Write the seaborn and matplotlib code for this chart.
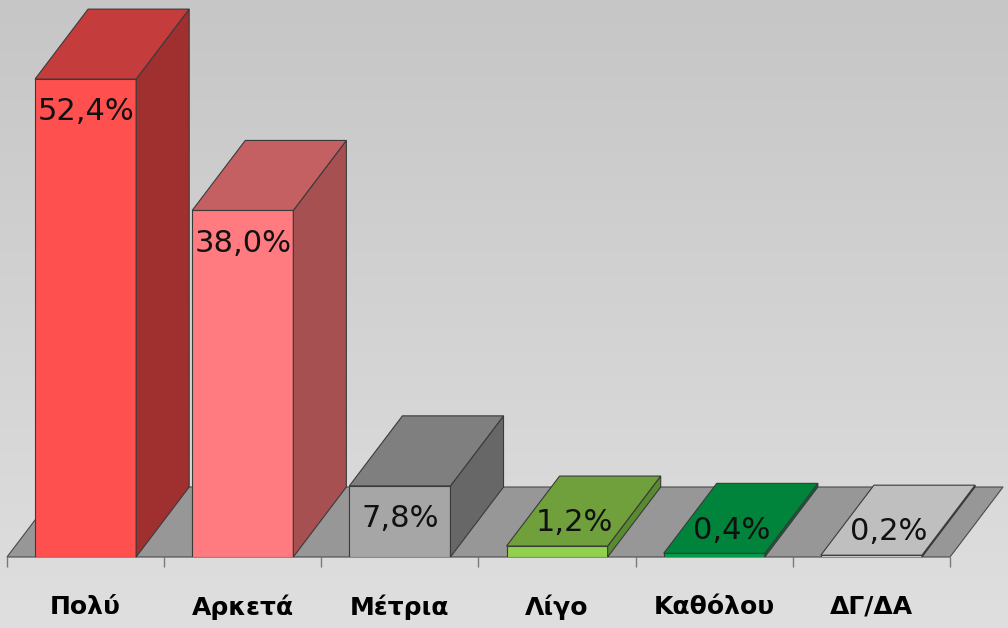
import numpy as np
import matplotlib
matplotlib.use("Agg")
import matplotlib.pyplot as plt
import seaborn as sns
from matplotlib.patches import Polygon
import pandas as pd

categories = ["Πολύ", "Αρκετά", "Μέτρια", "Λίγο", "Καθόλου", "ΔΓ/ΔΑ"]
values = [52.4, 38.0, 7.8, 1.2, 0.4, 0.2]
value_labels = ["52,4%", "38,0%", "7,8%", "1,2%", "0,4%", "0,2%"]
front_colors = ["#ff5050", "#ff7b80", "#a6a6a6", "#92d050", "#00a04a", "#d9d9d9"]
top_colors = ["#c43c3c", "#c46062", "#7f7f7f", "#70a03c", "#00843c", "#bfbfbf"]
side_colors = ["#a03030", "#a65052", "#676767", "#5a8a30", "#006a30", "#9a9a9a"]

sns.set_theme(style="white")
plt.rcParams['font.family'] = ['DejaVu Sans']

W, H = 1008, 628
fig = plt.figure(figsize=(W / 100, H / 100), dpi=100)

# background gradient
bg = fig.add_axes([0, 0, 1, 1], zorder=-10)
grad = np.linspace(0, 1, 256).reshape(-1, 1)
c_top = np.array([0xc6, 0xc6, 0xc6]) / 255
c_bot = np.array([0xdf, 0xdf, 0xdf]) / 255
img = c_top[None, None, :] * (1 - grad[:, :, None]) + c_bot[None, None, :] * grad[:, :, None]
bg.imshow(img, aspect="auto", extent=[0, 1, 0, 1])
bg.set_axis_off()

# main axes: x from px 7 to 950, y=0 at px 557, 9.12 px per %
x0, x1 = 7, 950
y0px = 557
ppu = 9.12
ymax = 60
ax = fig.add_axes([x0 / W, (H - y0px) / H, (x1 - x0) / W, ymax * ppu / H])
ax.patch.set_alpha(0)

df = pd.DataFrame({"cat": categories, "val": values})
sns.barplot(data=df, x="cat", y="val", hue="cat", palette=front_colors, legend=False,
            width=101 / 157, edgecolor="#3a3a3a", linewidth=0.8, saturation=1, ax=ax)
ax.set_xlim(-0.5, 5.5)
ax.set_ylim(0, ymax)

dx = 53 / 157
dy = 70 / ppu

# floor
floor = Polygon([(-0.5, 0), (5.5, 0), (5.5 + dx, dy), (-0.5 + dx, dy)], closed=True,
                facecolor="#979797", edgecolor="#4a4a4a", linewidth=0.8, zorder=1, clip_on=False)
ax.add_patch(floor)

for i, p in enumerate(ax.patches[:len(values)]):
    bx, bw, bh = p.get_x(), p.get_width(), p.get_height()
    p.set_zorder(3 + i)
    side = Polygon([(bx + bw, 0), (bx + bw + dx, dy), (bx + bw + dx, bh + dy), (bx + bw, bh)],
                   closed=True, facecolor=side_colors[i], edgecolor="#3a3a3a", linewidth=0.8,
                   zorder=3 + i, clip_on=False)
    top = Polygon([(bx, bh), (bx + bw, bh), (bx + bw + dx, bh + dy), (bx + dx, bh + dy)],
                  closed=True, facecolor=top_colors[i], edgecolor="#3a3a3a", linewidth=0.8,
                  zorder=3 + i, clip_on=False)
    ax.add_patch(side)
    ax.add_patch(top)
    cx = bx + bw / 2
    if bh < 3:
        tx, ty = cx + dx / 3, bh + dy / 3
    else:
        tx, ty = cx, bh - 3.6
    ax.text(tx, ty, value_labels[i], ha="center", va="center", fontsize=22,
            color="#111111", zorder=10 + i, clip_on=False)

for s in ax.spines.values():
    s.set_visible(False)
ax.set_yticks([])
ax.set_xlabel("")
ax.set_ylabel("")
ax.set_xticks(range(len(categories)))
ax.set_xticklabels(categories, fontsize=18, fontweight="bold", color="#000000")
ax.tick_params(axis="x", which="major", length=0, pad=27)
ax.set_xticks(np.arange(-0.5, 6, 1), minor=True)
ax.tick_params(axis="x", which="minor", length=7.2, width=1, color="#7a7a7a", bottom=True)

fig.savefig("out.png", dpi=100)
